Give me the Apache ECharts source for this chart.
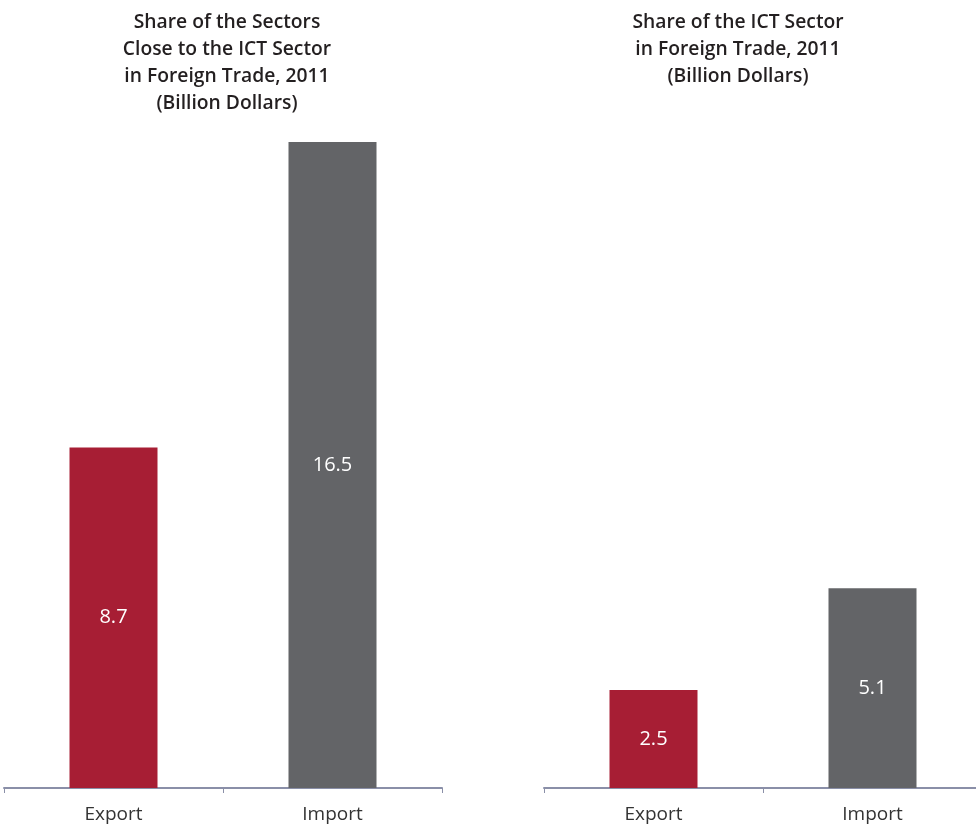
<!DOCTYPE html>
<html><head><meta charset="utf-8">
<script src="https://cdn.jsdelivr.net/npm/echarts@6/dist/echarts.min.js"></script>
<style>html,body{margin:0;padding:0;background:#fff}#c{width:976px;height:826px}</style>
</head><body><div id="c"></div>
<script>
const categories = ['Export', 'Import'];
const closeSectorValues = [8.7, 16.5];
const ictSectorValues = [2.5, 5.1];
const titleLeft = 'Share of the Sectors\nClose to the ICT Sector\nin Foreign Trade, 2011\n(Billion Dollars)';
const titleRight = 'Share of the ICT Sector\nin Foreign Trade, 2011\n(Billion Dollars)';
const colors = ['#a71e34', '#636467'];

const FONT = '"Open Sans", "Noto Sans", sans-serif';
const chart = echarts.init(document.getElementById('c'));
function mkData(vals){
  return vals.map((v,i)=>({value:v, itemStyle:{color:colors[i]}}));
}
const xAxisCommon = {
  type:'category', data:categories,
  axisLine:{lineStyle:{color:'#8a8fa8', width:2}},
  axisTick:{show:true, length:5, lineStyle:{color:'#8a8fa8', width:1}},
  axisLabel:{color:'#333', fontSize:19, fontFamily:FONT, margin:17}
};
const yAxisCommon = {type:'value', min:0, max:16.5, show:false, splitLine:{show:false}};
const labelCommon = {show:true, position:'inside', color:'#fff', fontSize:20, fontFamily:FONT};
chart.setOption({
  animation:false,
  title:[
    {text:titleLeft, left:222, top:4, textAlign:'center',
     textStyle:{fontSize:19.3, fontWeight:600, color:'#231f20', fontFamily:FONT, lineHeight:27}},
    {text:titleRight, left:733, top:4, textAlign:'center',
     textStyle:{fontSize:19.3, fontWeight:600, color:'#231f20', fontFamily:FONT, lineHeight:27}}
  ],
  grid:[
    {left:4, width:438, top:142, height:646, outerBoundsMode:'none'},
    {left:544, width:438, top:142, height:646, outerBoundsMode:'none'}
  ],
  xAxis:[Object.assign({gridIndex:0}, xAxisCommon), Object.assign({gridIndex:1}, xAxisCommon)],
  yAxis:[Object.assign({gridIndex:0}, yAxisCommon), Object.assign({gridIndex:1}, yAxisCommon)],
  series:[
    {type:'bar', xAxisIndex:0, yAxisIndex:0, barWidth:88, data:mkData(closeSectorValues), label:labelCommon},
    {type:'bar', xAxisIndex:1, yAxisIndex:1, barWidth:88, data:mkData(ictSectorValues), label:labelCommon}
  ]
});
</script></body></html>
